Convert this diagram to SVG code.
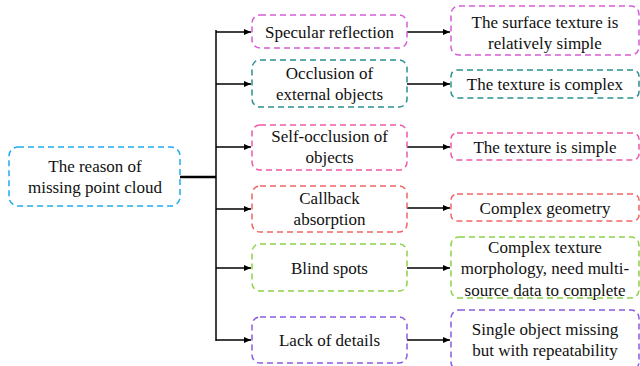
<svg xmlns="http://www.w3.org/2000/svg" width="640" height="366" viewBox="0 0 640 366">
<style>
.b{fill:#fff;stroke-width:1.5;stroke-dasharray:6 4}
.t{font-size:17px;fill:#111;text-anchor:middle}
.c{stroke:#000;stroke-width:1.5;fill:none}
</style>
<defs>
<marker id="ah" markerWidth="8" markerHeight="8" refX="7" refY="4" orient="auto" markerUnits="userSpaceOnUse">
<path d="M0,1 L7,4 L0,7 Z" fill="#000"/>
</marker>
</defs>
<rect width="640" height="366" fill="#fff"/>
<g id="connectors">
<path d="M180,177 H216" stroke="#000" stroke-width="2.5" fill="none"/>
<path class="c" d="M216,30 V341"/>
<path class="c" d="M216,32 H251" marker-end="url(#ah)"/>
<path class="c" d="M216,84 H251" marker-end="url(#ah)"/>
<path class="c" d="M216,147 H251" marker-end="url(#ah)"/>
<path class="c" d="M216,209 H251" marker-end="url(#ah)"/>
<path class="c" d="M216,268 H251" marker-end="url(#ah)"/>
<path class="c" d="M216,340 H251" marker-end="url(#ah)"/>
<path class="c" d="M407,32 H450" marker-end="url(#ah)"/>
<path class="c" d="M407,84 H450" marker-end="url(#ah)"/>
<path class="c" d="M407,147 H450" marker-end="url(#ah)"/>
<path class="c" d="M407,208 H450" marker-end="url(#ah)"/>
<path class="c" d="M407,268 H450" marker-end="url(#ah)"/>
<path class="c" d="M407,340 H450" marker-end="url(#ah)"/>
</g>
<g font-family="Liberation Serif, Times New Roman, serif">
<g id="root">
<rect class="b" x="9" y="147" width="171" height="59" rx="9" stroke="#22aaee"/>
<text class="t" x="95" y="172">The reason of</text>
<text class="t" x="95" y="193">missing point cloud</text>
</g>
<g id="specular">
<rect class="b" x="252" y="15" width="155" height="33" rx="8" stroke="#d65cd6"/>
<text class="t" x="329.5" y="38">Specular reflection</text>
</g>
<g id="occlusion">
<rect class="b" x="252" y="60" width="155" height="47" rx="8" stroke="#2a9090"/>
<text class="t" x="329.5" y="79">Occlusion of</text>
<text class="t" x="329.5" y="100">external objects</text>
</g>
<g id="selfocc">
<rect class="b" x="252" y="125" width="155" height="45" rx="8" stroke="#ee5aa8"/>
<text class="t" x="329.5" y="142">Self-occlusion of</text>
<text class="t" x="329.5" y="163">objects</text>
</g>
<g id="callback">
<rect class="b" x="252" y="186" width="155" height="46" rx="8" stroke="#f06565"/>
<text class="t" x="329.5" y="204">Callback</text>
<text class="t" x="329.5" y="225">absorption</text>
</g>
<g id="blind">
<rect class="b" x="252" y="244" width="155" height="47" rx="8" stroke="#8cd24a"/>
<text class="t" x="329.5" y="274">Blind spots</text>
</g>
<g id="lack">
<rect class="b" x="252" y="317" width="155" height="46" rx="8" stroke="#8a5ce0"/>
<text class="t" x="329.5" y="346">Lack of details</text>
</g>
<g id="surface">
<rect class="b" x="451" y="6" width="188" height="49" rx="8" stroke="#d65cd6"/>
<text class="t" x="545" y="28">The surface texture is</text>
<text class="t" x="545" y="49">relatively simple</text>
</g>
<g id="texcomplex">
<rect class="b" x="451" y="70" width="188" height="28" rx="6" stroke="#2a9090"/>
<text class="t" x="545" y="90">The texture is complex</text>
</g>
<g id="texsimple">
<rect class="b" x="451" y="133" width="188" height="27" rx="6" stroke="#ee5aa8"/>
<text class="t" x="545" y="153">The texture is simple</text>
</g>
<g id="geometry">
<rect class="b" x="451" y="194" width="188" height="27" rx="6" stroke="#f06565"/>
<text class="t" x="545" y="214">Complex geometry</text>
</g>
<g id="morph">
<rect class="b" x="451" y="237" width="188" height="61" rx="8" stroke="#8cd24a"/>
<text class="t" x="545" y="253">Complex texture</text>
<text class="t" x="545" y="274">morphology, need multi-</text>
<text class="t" x="545" y="296">source data to complete</text>
</g>
<g id="single">
<rect class="b" x="451" y="310" width="188" height="60" rx="8" stroke="#8a5ce0"/>
<text class="t" x="545" y="335">Single object missing</text>
<text class="t" x="545" y="356">but with repeatability</text>
</g>
</g>
</svg>
